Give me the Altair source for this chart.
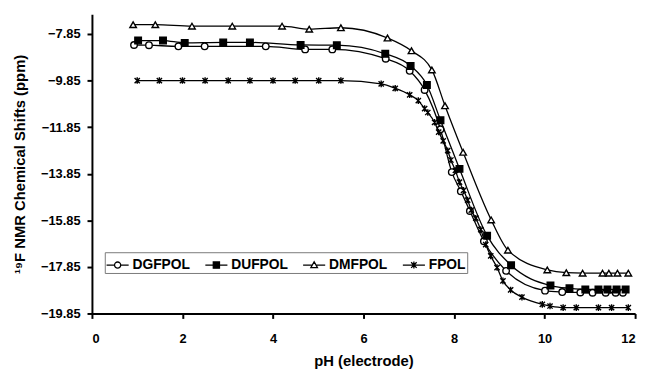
import altair as alt
import pandas as pd

series_names = ["DGFPOL", "DUFPOL", "DMFPOL", "FPOL"]

dgfpol_x = [0.93, 1.26, 1.91, 2.49, 3.84, 4.71, 5.31, 6.49, 7.02, 7.35, 7.70, 7.95, 8.15, 8.35,
            8.66, 9.15, 10.01, 10.39, 10.79, 11.06, 11.35, 11.57, 11.73]
dgfpol_y = [-8.32, -8.33, -8.38, -8.38, -8.38, -8.51, -8.51, -8.91, -9.43, -10.25, -11.94, -13.78, -14.60, -15.45,
            -16.75, -18.02, -18.87, -18.93, -18.95, -18.96, -18.96, -18.96, -18.96]

dufpol_x = [1.02, 1.57, 2.05, 2.90, 3.49, 4.61, 5.41, 6.48, 7.04, 7.40, 7.70, 8.12, 8.73, 9.26,
            10.13, 10.55, 10.90, 11.19, 11.39, 11.59, 11.79]
dufpol_y = [-8.13, -8.13, -8.23, -8.21, -8.21, -8.32, -8.33, -8.70, -9.22, -10.04, -11.55, -13.64, -16.51, -17.78,
            -18.65, -18.77, -18.82, -18.82, -18.82, -18.82, -18.82]

dmfpol_x = [0.91, 1.40, 2.21, 3.10, 4.20, 4.80, 5.50, 6.53, 7.06, 7.51, 7.80, 8.20, 8.82, 9.19,
            10.06, 10.48, 10.84, 11.28, 11.42, 11.61, 11.85]
dmfpol_y = [-7.45, -7.45, -7.51, -7.51, -7.51, -7.64, -7.58, -8.02, -8.57, -9.39, -10.93, -12.93, -15.83, -17.13,
            -17.98, -18.10, -18.12, -18.12, -18.12, -18.12, -18.12]

fpol_x = [1.00, 1.49, 2.00, 2.50, 3.01, 3.49, 4.00, 4.49, 5.01, 5.50, 6.39, 6.70, 7.02, 7.21, 7.35, 7.42,
          7.57, 7.66, 7.76, 7.86, 7.93, 8.03, 8.12, 8.21, 8.30, 8.38, 8.48, 8.59, 8.70, 8.81, 8.95,
          9.08, 9.25, 9.50, 9.95, 10.12, 10.41, 10.70, 11.19, 11.48, 11.85]
fpol_y = [-9.85, -9.85, -9.85, -9.85, -9.85, -9.85, -9.85, -9.85, -9.85, -9.85, -9.99, -10.18, -10.46, -10.71,
          -11.05, -11.22, -11.64, -12.06, -12.44, -12.86, -13.26, -13.71, -14.21, -14.56, -14.98, -15.41,
          -15.76, -16.25, -16.89, -17.38, -17.88, -18.45, -18.84, -19.15, -19.46, -19.53, -19.60, -19.60,
          -19.60, -19.60, -19.60]

y_ticks = [-19.85, -17.85, -15.85, -13.85, -11.85, -9.85, -7.85]
x_ticks = [0, 2, 4, 6, 8, 10, 12]

rows = []
for name, xs, ys in [("DGFPOL", dgfpol_x, dgfpol_y), ("DUFPOL", dufpol_x, dufpol_y),
                     ("DMFPOL", dmfpol_x, dmfpol_y), ("FPOL", fpol_x, fpol_y)]:
    for i, (a, b) in enumerate(zip(xs, ys)):
        rows.append({"series": name, "ph": a, "shift": b, "i": i})
df = pd.DataFrame(rows)

FONT = "Liberation Sans"
asterisk = "M-0.8,-0.8L0.8,0.8M-0.8,0.8L0.8,-0.8M0,-1L0,1"
point_shapes = ["circle", "square", "triangle-up", asterisk]
legend_shapes = [
    "M-1,0L-0.28,0M0.28,0L1,0M-0.28,0A0.28,0.28,0,1,0,0.28,0A0.28,0.28,0,1,0,-0.28,0Z",
    "M-1,0L1,0M-0.28,-0.28L0.28,-0.28L0.28,0.28L-0.28,0.28Z",
    "M-1,0L-0.17,0M0.17,0L1,0M-0.3,0.24L0.3,0.24L0,-0.3Z",
    "M-1,0L1,0M-0.25,-0.25L0.25,0.25M-0.25,0.25L0.25,-0.25M0,-0.32L0,0.32",
]
fills = ["white", "black", "white", "transparent"]
strokes = ["black", "black", "black", "black"]

x_enc = alt.X("ph:Q", scale=alt.Scale(domain=[0, 12], nice=False, zero=False),
              axis=alt.Axis(values=x_ticks, title="pH (electrode)", format="d",
                            labelPadding=14, titleY=53, titleBaseline="alphabetic"))
y_enc = alt.Y("shift:Q", scale=alt.Scale(domain=[-19.85, -7.0], nice=False, zero=False),
              axis=alt.Axis(values=y_ticks, format=".2f", title="¹⁹F NMR Chemical Shifts (ppm)",
                            labelPadding=7, titleX=-73, titleY=151.5, titleAngle=270,
                            titleAlign="center", titleBaseline="middle"))

lines = alt.Chart(df).mark_line(interpolate="monotone", color="black", strokeWidth=1.3).encode(
    x=x_enc, y=y_enc, detail="series:N", order="i:Q")

points = alt.Chart(df).mark_point(size=44, strokeWidth=1.4, opacity=1).encode(
    x=x_enc, y=y_enc,
    shape=alt.Shape("series:N", scale=alt.Scale(domain=series_names, range=point_shapes), legend=None),
    fill=alt.Fill("series:N", scale=alt.Scale(domain=series_names, range=fills), legend=None),
    stroke=alt.Stroke("series:N", scale=alt.Scale(domain=series_names, range=strokes), legend=None),
)

legend_def = alt.Legend(title=None, orient="none", legendX=13, legendY=241,
                        direction="horizontal", columns=4, symbolSize=500,
                        symbolStrokeWidth=1.3,
                        labelFont=FONT, labelFontSize=14, labelFontWeight="bold",
                        labelColor="black", labelOffset=3, columnPadding=12,
                        padding=1, strokeColor="#7a7a7a", fillColor="white")

legend_layer = alt.Chart(df).transform_filter("false").mark_point(
    size=44, strokeWidth=1.3, opacity=1).encode(
    x=x_enc, y=y_enc,
    shape=alt.Shape("series:N", scale=alt.Scale(domain=series_names, range=legend_shapes), legend=legend_def),
    fill=alt.Fill("series:N", scale=alt.Scale(domain=series_names, range=fills), legend=legend_def),
    stroke=alt.Stroke("series:N", scale=alt.Scale(domain=series_names, range=strokes), legend=legend_def),
)

chart = alt.layer(lines, points, legend_layer).resolve_scale(
    shape="independent", fill="independent", stroke="independent"
).properties(
    width=550, height=303,
    autosize=alt.AutoSizeParams(type="none"),
    padding={"left": 85, "top": 4, "right": 9, "bottom": 60},
).configure_view(stroke=None).configure_axis(
    grid=False, domainColor="black", domainWidth=2, tickColor="black", tickWidth=2, tickSize=5,
    labelFont=FONT, labelFontSize=13, labelFontWeight="bold", labelColor="black",
    titleFont=FONT, titleFontSize=15, titleFontWeight="bold", titleColor="black",
)

chart.save("out.html", embed_options={"renderer": "svg", "actions": False})
